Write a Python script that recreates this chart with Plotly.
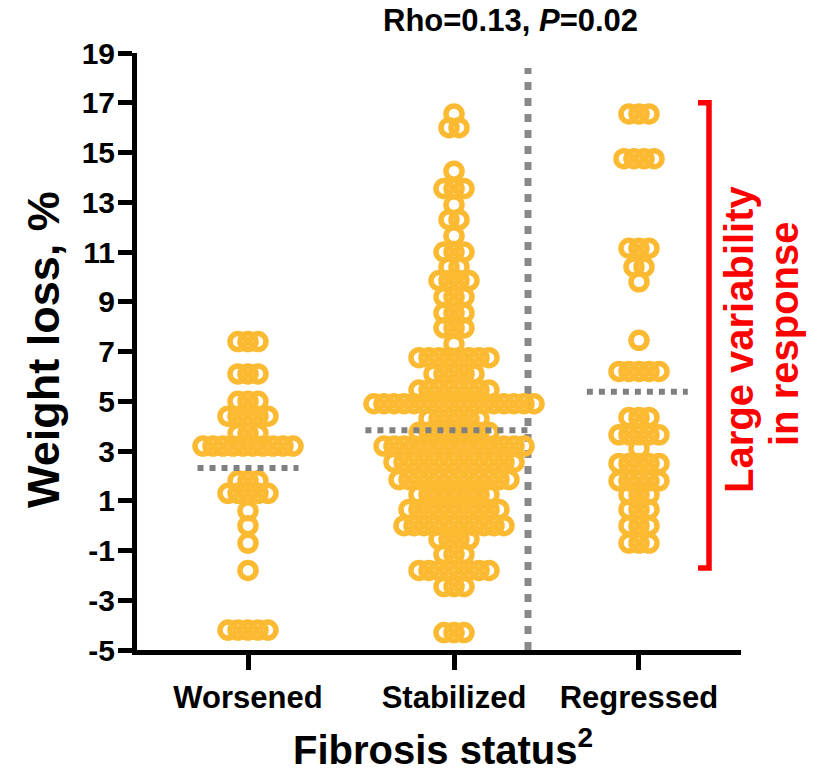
import plotly.graph_objects as go

# ---------------- data ----------------
categories = ["Worsened", "Stabilized", "Regressed"]

worsened_levels = [7.4, 6.1, 5.0, 4.4, 3.7, 3.2, 1.8, 1.3, 0.6, 0.0, -0.7, -1.8, -4.2]
worsened_counts = [3, 3, 3, 5, 3, 10, 3, 5, 1, 1, 1, 1, 5]

stabilized_levels = [16.55, 16.0, 14.25, 13.55, 12.9, 12.3, 11.65, 11.0, 10.4, 9.85, 9.2,
                     8.55, 7.95, 7.3, 6.75, 6.1, 5.45, 4.9, 4.3, 3.75, 3.2, 2.55, 1.85,
                     1.25, 0.65, 0.0, -0.55, -1.15, -1.8, -2.45, -4.3]
stabilized_counts = [1, 2, 1, 3, 1, 2, 1, 3, 2, 4, 3,
                     3, 3, 1, 8, 5, 8, 17, 6, 8, 15, 13, 12,
                     8, 10, 11, 4, 3, 8, 3, 3]

regressed_levels = [16.55, 14.75, 11.15, 10.4, 9.8, 7.45, 6.2, 4.35, 3.65, 3.1, 2.5,
                    1.8, 1.25, 0.65, 0.0, -0.7]
regressed_counts = [3, 4, 3, 2, 1, 1, 5, 3, 5, 1, 5,
                    5, 3, 3, 3, 3]

medians = [2.32, 3.83, 5.38]

y_ticks = list(range(-5, 20, 2))
y_tick_labels = [str(v) for v in y_ticks]

stat_text = "Rho=0.13, <i>P</i>=0.02"
bracket_range = [17.0, -1.7]

# ---------------- layout helpers (pixels) ----------------
W, H = 817, 771
L, R, T, B = 137, 76, 53, 121
PX_PER_UNIT = 206.0
X0_PX = 42.0
cat_pos = [1.0, 2.0, 2.898]
x_range = [(L - X0_PX) / PX_PER_UNIT, (W - R - X0_PX) / PX_PER_UNIT]


def px_x(px):
    return (px - X0_PX) / PX_PER_UNIT


def paper_x(px):
    return (px - L) / (W - L - R)


def paper_y(py):
    return (H - B - py) / (H - T - B)


spacing = 10.0 / PX_PER_UNIT


def swarm(levels, counts, center):
    xs, ys = [], []
    for v, n in zip(levels, counts):
        for i in range(n):
            xs.append(center + (i - (n - 1) / 2.0) * spacing)
            ys.append(v)
    return xs, ys


ORANGE = "#FBBA31"
FONT = "Arial, Liberation Sans, sans-serif"

fig = go.Figure()
groups = [(worsened_levels, worsened_counts), (stabilized_levels, stabilized_counts),
          (regressed_levels, regressed_counts)]
for (lv, ct), c in zip(groups, cat_pos):
    xs, ys = swarm(lv, ct, c)
    fig.add_trace(go.Scatter(
        x=xs, y=ys, mode="markers", cliponaxis=False, showlegend=False,
        marker=dict(symbol="circle-open", size=16, color=ORANGE,
                    line=dict(width=5.5, color=ORANGE)),
        hoverinfo="y"))

# median dotted lines
median_half = [0.245, 0.40, 0.245]
median_center = [1.0, 1.97, 2.89]
shapes = []
for m, c, hw in zip(medians, median_center, median_half):
    shapes.append(dict(type="line", xref="x", yref="y", x0=c - hw, x1=c + hw, y0=m, y1=m,
                       line=dict(color="#808080", width=6, dash="6px,6px"), layer="above"))

# vertical dotted separator
shapes.append(dict(type="line", xref="x", yref="y", x0=px_x(528), x1=px_x(528), y0=-5, y1=18.4,
                   line=dict(color="#888888", width=7, dash="8px,8px"), layer="below"))

# red bracket
bx0, bx1 = px_x(698), px_x(709)
shapes.append(dict(type="path", xref="x", yref="y",
                   path=f"M {bx0},{bracket_range[0]} L {bx1},{bracket_range[0]} "
                        f"L {bx1},{bracket_range[1]} L {bx0},{bracket_range[1]}",
                   line=dict(color="#FF0000", width=5.5), layer="above"))

annotations = [
    dict(text=stat_text, xref="paper", yref="paper", x=paper_x(510), y=paper_y(21),
         xanchor="center", yanchor="middle", showarrow=False,
         font=dict(family=FONT, size=31, color="black", weight="bold")),
    dict(text="Large variability", xref="paper", yref="paper", x=paper_x(739), y=paper_y(339),
         xanchor="center", yanchor="middle", showarrow=False, textangle=-90,
         font=dict(family=FONT, size=40, color="#FF0000", weight="bold")),
    dict(text="in response", xref="paper", yref="paper", x=paper_x(784), y=paper_y(334),
         xanchor="center", yanchor="middle", showarrow=False, textangle=-90,
         font=dict(family=FONT, size=40, color="#FF0000", weight="bold")),
    dict(text="Fibrosis status<sup>2</sup>", xref="paper", yref="paper",
         x=paper_x(443), y=paper_y(747), xanchor="center", yanchor="middle", showarrow=False,
         font=dict(family=FONT, size=40, color="black", weight="bold")),
    dict(text="Weight loss, %", xref="paper", yref="paper",
         x=paper_x(43), y=paper_y(350), xanchor="center", yanchor="middle", showarrow=False,
         textangle=-90, font=dict(family=FONT, size=45, color="black", weight="bold")),
]

fig.update_layout(
    width=W, height=H,
    margin=dict(l=L, r=R, t=T, b=B, pad=0),
    paper_bgcolor="white", plot_bgcolor="white",
    showlegend=False,
    shapes=shapes, annotations=annotations,
    xaxis=dict(range=x_range, tickmode="array", tickvals=cat_pos, ticktext=categories,
               ticks="outside", ticklen=15, tickwidth=5, tickcolor="black",
               showline=True, linewidth=5, linecolor="black",
               showgrid=False, zeroline=False, ticklabelstandoff=1,
               tickfont=dict(family=FONT, size=31, color="black", weight="bold")),
    yaxis=dict(range=[-5, 19], tickmode="array", tickvals=y_ticks, ticktext=y_tick_labels,
               ticks="outside", ticklen=14, tickwidth=5, tickcolor="black",
               showline=True, linewidth=5, linecolor="black",
               showgrid=False, zeroline=False, ticklabelstandoff=-3,
               tickfont=dict(family=FONT, size=30, color="black", weight="bold")),
)

fig.write_html("out.html")
